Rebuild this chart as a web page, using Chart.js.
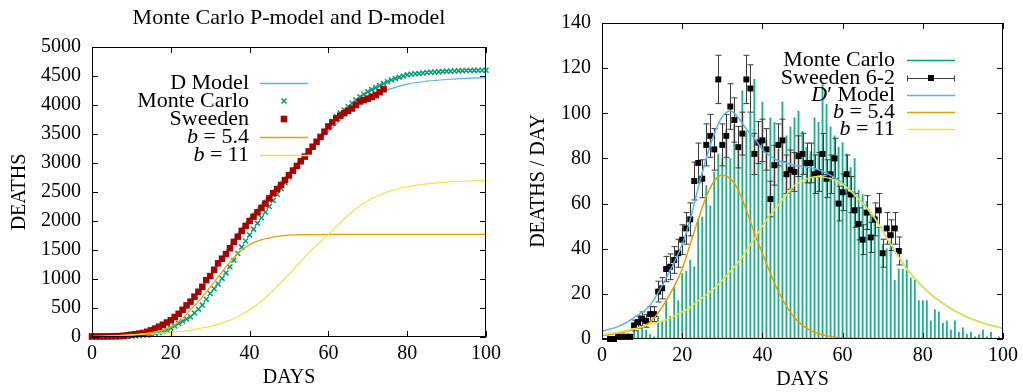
<!DOCTYPE html>
<html>
<head>
<meta charset="utf-8">
<script src="https://cdn.jsdelivr.net/npm/chart.js@4.4.1/dist/chart.umd.min.js"></script>
<style>
  html, body { margin: 0; padding: 0; background: #fff; }
  #wrap { position: relative; width: 1023px; height: 392px; }
  canvas { position: absolute; top: 0; }
  #left { left: 0; }
  #right { left: 512px; }
</style>
</head>
<body>
<div id="wrap">
  <canvas id="left" width="512" height="392"></canvas>
  <canvas id="right" width="511" height="392"></canvas>
</div>
<script>
// days 0..100 (x axis of the Monte Carlo series)
const days = Array.from({ length: 101 }, (_, i) => i);

// Monte Carlo, deaths per day (bars, right panel)
const mcDaily = [0,0,0,0,0,0,1,2,4,4, 5,4,2,1,10,8,17,10,23,17,
  29,30,35,32,53,54,68,59,74,82, 80,93,80,95,86,110,92,100,115,90,
  105,88,98,96,84,105,90,94,98,101, 92,85,83,98,96,113,104,94,90,85,
  87,82,76,80,66,64,61,56,52,49, 42,40,43,26,31,31,35,27,26,17,
  17,17,8,13,12,7,8,4,8,3, 5,2,3,1,2,4,1,3,0.5,1,0.5];

// Monte Carlo, cumulative deaths (crosses, left panel)
const mcCumulative = [0,0,1,1,2,3,4,6,9,12, 16,20,24,29,36,45,60,75,95,120,
  150,190,235,270,310,350,415,480,550,650, 750,830,915,1010,1105,1210,1325,1440,1550,1655,
  1760,1860,1960,2055,2150,2250,2355,2460,2560,2660, 2760,2850,2940,3030,3115,3200,3285,3370,3450,3540,
  3630,3715,3800,3860,3915,3970,4030,4085,4140,4185, 4230,4265,4300,4335,4370,4400,4430,4455,4480,4500,
  4520,4530,4538,4545,4552,4560,4564,4568,4572,4576, 4580,4583,4586,4589,4592,4595,4596,4597,4598,4599,4600];

// Sweden, cumulative deaths, days 0..74 (squares, left panel)
const swedenCumulative = [10,10,10,11,12,13,14,15,21,29, 40,48,59,70,90,115,145,178,212,250,
  290,345,400,470,545,610,695,780,865,980, 1050,1160,1270,1350,1430,1530,1640,1730,1830,1915,
  2000,2075,2150,2225,2300,2390,2480,2550,2620,2705, 2790,2870,2950,3030,3110,3200,3280,3365,3450,3540,
  3630,3700,3770,3815,3860,3900,3940,4000,4060,4085, 4110,4140,4170,4220,4270];

// Sweden 6-2, deaths per day, days 2..74, with error bars
const swedenDays = Array.from({ length: 73 }, (_, i) => i + 2);
const swedenDaily = [0,0,1,1,1,1, 6,7.5,9,8,11,11,21,22.5,31,32,
  35,38,44,49,53,70,78,71,86,90, 84,115,86,90,103,97,85,91,115,111,
  82,87,88,84,62,77,86,88,73,75, 74,81,82,78,78,73,74,82,71,73,
  80,60,65,73,64,57,51,44,56,45, 53,57,38,49,46,49,39];
const swedenErr = [0,0,1,1,1,1, 2.4,2.7,3,2.8,3.3,3.3,4.6,4.7,5.6,5.7,
  5.9,6.2,6.6,7,7.3,8.4,8.8,8.4,9.3,9.5, 9.2,10.7,9.3,9.5,10.1,9.8,9.2,9.5,10.7,10.5,
  9.1,9.3,9.4,9.2,7.9,8.8,9.3,9.4,8.5,8.7, 8.6,9,9.1,8.8,8.8,8.5,8.6,9.1,8.4,8.5,
  8.9,7.7,8.1,8.5,8,7.5,7.1,6.6,7.5,6.7, 7.3,7.5,6.2,7,6.8,7,6.2];

// model curves, left panel (cumulative)
const leftCurveDays = [0,5,10,15,20,22.5,25,27.5,30,32.5,35,37.5,40,42.5,45,47.5,50,55,60,65,70,75,80,85,90,95,100];
const dModelCum = [18,35,70,130,250,385,590,800,1040,1310,1580,1840,2060,2255,2450,2650,2835,3220,3540,3860,4110,4260,4360,4410,4440,4460,4470];
const b54Cum = [8,15,35,75,170,290,470,650,860,1080,1290,1470,1590,1665,1710,1740,1755,1765,1770,1770,1770,1770,1770,1770,1770,1770,1770];
const b11Cum = [10,20,35,55,80,95,120,150,180,230,290,370,470,590,740,910,1080,1450,1770,2100,2350,2500,2590,2640,2670,2690,2700];

// model curves, right panel (per day)
const rightCurveDays = [0,4,8,12,16,20,22,24,26,28,30,32,34,36,38,40,42,44,46,48,50,52,54,56,58,60,64,68,72,76,80,84,88,92,96,100];
const dPrimeDaily = [3.5,5.5,9.5,15,27,42,53,67,80,91,98.5,101,98,93,89,84,81,79,78,77,76.5,76,75,73.5,71.5,69,62.2,53.6,42,31,23,17,12.5,9,6.5,4.7];
const b54Daily = [1.5,2.5,4.3,7.5,17,31,42,53,63,70,72.5,71,66,57,47,38,29,21,14.5,9.5,6,3.8,2.3,1.4,0.8,0.5,0.2,0.1,0,0,0,0,0,0,0,0];
const b11Daily = [2,3,4.5,6.5,8.5,12,14,17,19.5,22.5,26,30,34,39,44.5,50,55,59.5,64,68,70,71.5,72,71.5,70.5,68.5,62,53.5,42,31,23,17,12.5,9,6.5,4.7];

const C = { blue: '#56b4e9', green: '#009e73', red: '#a80000', orange: '#e69f00', yellow: '#f0e442' };
const FONT = '"Liberation Serif", "Times New Roman", serif';

Chart.defaults.font.family = FONT;
Chart.defaults.font.size = 20;
Chart.defaults.color = '#000';

const pts = (xs, ys) => xs.map((x, i) => ({ x: x, y: ys[i] }));

// gnuplot style box with inner ticks on all four sides
const framePlugin = {
  id: 'frame',
  afterDraw(chart) {
    const { ctx, chartArea: a, scales: { x, y } } = chart;
    ctx.save();
    ctx.strokeStyle = '#000';
    ctx.lineWidth = 1;
    ctx.beginPath();
    x.ticks.forEach(t => {
      const px = Math.round(x.getPixelForValue(t.value)) + 0.5;
      ctx.moveTo(px, a.bottom); ctx.lineTo(px, a.bottom - 6);
      ctx.moveTo(px, a.top); ctx.lineTo(px, a.top + 6);
    });
    y.ticks.forEach(t => {
      const py = Math.round(y.getPixelForValue(t.value)) + 0.5;
      ctx.moveTo(a.left, py); ctx.lineTo(a.left + 6, py);
      ctx.moveTo(a.right, py); ctx.lineTo(a.right - 6, py);
    });
    ctx.stroke();
    ctx.strokeRect(a.left + 0.5, a.top + 0.5, a.right - a.left - 1, a.bottom - a.top - 1);
    ctx.restore();
  }
};

// error bars of the Sweden daily series (dataset 1 of the right chart)
const errorBarPlugin = {
  id: 'errbars',
  beforeDatasetDraw(chart, args) {
    if (args.index !== 1) return;
    const { ctx, scales: { y } } = chart;
    ctx.save();
    ctx.strokeStyle = '#3a3a3a';
    ctx.lineWidth = 1;
    ctx.beginPath();
    args.meta.data.forEach((pt, i) => {
      const e = swedenErr[i];
      if (!e) return;
      const top = y.getPixelForValue(swedenDaily[i] + e);
      const bot = y.getPixelForValue(swedenDaily[i] - e);
      const px = Math.round(pt.x) + 0.5;
      ctx.moveTo(px, top); ctx.lineTo(px, bot);
      ctx.moveTo(px - 3, top); ctx.lineTo(px + 3, top);
      ctx.moveTo(px - 3, bot); ctx.lineTo(px + 3, bot);
    });
    ctx.stroke();
    ctx.restore();
  }
};

// key with right aligned text and the sample to its right (plus an optional title)
function makeLegend(items, cfg) {
  return {
    id: 'gnuLegend',
    afterDraw(chart) {
      const ctx = chart.ctx;
      ctx.save();
      ctx.textBaseline = 'middle';
      if (cfg.title) {
        const a = chart.chartArea;
        ctx.font = '22px ' + FONT;
        ctx.fillStyle = '#000';
        ctx.textAlign = 'center';
        ctx.fillText(cfg.title, (a.left + a.right) / 2, cfg.titleY);
      }
      items.forEach((it, k) => {
        const y = cfg.rows[k];
        const fonts = it.parts.map(p => (p[1] ? 'italic ' : '') + '22px ' + FONT);
        let w = 0;
        it.parts.forEach((p, j) => { ctx.font = fonts[j]; w += ctx.measureText(p[0]).width; });
        let x = cfg.textRight - w;
        ctx.fillStyle = '#000';
        ctx.textAlign = 'left';
        it.parts.forEach((p, j) => {
          ctx.font = fonts[j];
          ctx.fillText(p[0], x, y);
          x += ctx.measureText(p[0]).width;
        });
        const x0 = cfg.x0, x1 = cfg.x1, xm = (x0 + x1) / 2, yy = Math.round(y) + 0.5;
        ctx.strokeStyle = it.color;
        ctx.fillStyle = it.color;
        ctx.lineWidth = cfg.lw;
        if (it.kind === 'line') {
          ctx.beginPath(); ctx.moveTo(x0, yy); ctx.lineTo(x1, yy); ctx.stroke();
        } else if (it.kind === 'cross') {
          ctx.lineWidth = 1.5;
          ctx.beginPath();
          ctx.moveTo(xm - 2.5, y - 2.5); ctx.lineTo(xm + 2.5, y + 2.5);
          ctx.moveTo(xm - 2.5, y + 2.5); ctx.lineTo(xm + 2.5, y - 2.5);
          ctx.stroke();
        } else if (it.kind === 'square') {
          ctx.fillRect(xm - 3.3, y - 3.3, 6.6, 6.6);
        } else if (it.kind === 'errbar') {
          ctx.lineWidth = 1;
          ctx.strokeStyle = '#3a3a3a';
          ctx.beginPath();
          ctx.moveTo(x0, yy); ctx.lineTo(x1, yy);
          ctx.moveTo(x0 + 0.5, yy - 3); ctx.lineTo(x0 + 0.5, yy + 3);
          ctx.moveTo(x1 - 0.5, yy - 3); ctx.lineTo(x1 - 0.5, yy + 3);
          ctx.stroke();
          ctx.fillStyle = '#000';
          ctx.fillRect(xm - 3, y - 3, 6, 6);
        }
      });
      ctx.restore();
    }
  };
}

const leftKey = [
  { parts: [['D Model', false]], kind: 'line', color: C.blue },
  { parts: [['Monte Carlo', false]], kind: 'cross', color: C.green },
  { parts: [['Sweeden', false]], kind: 'square', color: C.red },
  { parts: [['b', true], [' = 5.4', false]], kind: 'line', color: C.orange },
  { parts: [['b', true], [' = 11', false]], kind: 'line', color: C.yellow }
];
const rightKey = [
  { parts: [['Monte Carlo', false]], kind: 'line', color: C.green },
  { parts: [['Sweeden 6-2', false]], kind: 'errbar', color: '#000' },
  { parts: [['D', true], ['\u2032 Model', false]], kind: 'line', color: C.blue },
  { parts: [['b', true], [' = 5.4', false]], kind: 'line', color: C.orange },
  { parts: [['b', true], [' = 11', false]], kind: 'line', color: C.yellow }
];

function axes(yMax, yStep, yTitle, yTitlePad, yWidth, xHeight, xTitlePad) {
  const noGrid = { display: false, drawTicks: false };
  return {
    x: {
      type: 'linear', min: 0, max: 100, offset: false,
      ticks: { stepSize: 20, padding: 5, maxRotation: 0, autoSkip: false, callback: v => String(v) },
      grid: noGrid, border: { display: false },
      title: { display: true, text: 'DAYS', padding: { top: 0, bottom: xTitlePad } },
      afterFit: s => { s.height = xHeight; }
    },
    y: {
      min: 0, max: yMax,
      ticks: { stepSize: yStep, padding: 11, autoSkip: false, callback: v => String(v) },
      grid: noGrid, border: { display: false },
      title: { display: true, text: yTitle, padding: { top: yTitlePad, bottom: 0 } },
      afterFit: s => { s.width = yWidth; }
    }
  };
}

new Chart(document.getElementById('left'), {
  type: 'line',
  data: {
    datasets: [
      { label: 'D Model', data: pts(leftCurveDays, dModelCum), borderColor: C.blue, borderWidth: 1.2,
        pointRadius: 0, cubicInterpolationMode: 'monotone', order: 5 },
      { label: 'Monte Carlo', data: pts(days, mcCumulative), showLine: false, pointStyle: 'crossRot',
        pointRadius: 3.5, pointBorderColor: C.green, pointBorderWidth: 1.5, borderColor: C.green, order: 4, clip: false },
      { label: 'Sweeden', data: pts(days.slice(0, swedenCumulative.length), swedenCumulative), showLine: false,
        pointStyle: 'rect', pointRadius: 4.6, pointBackgroundColor: C.red, pointBorderWidth: 0, borderColor: C.red, order: 3, clip: false },
      { label: 'b = 5.4', data: pts(leftCurveDays, b54Cum), borderColor: C.orange, borderWidth: 1.2,
        pointRadius: 0, cubicInterpolationMode: 'monotone', order: 2 },
      { label: 'b = 11', data: pts(leftCurveDays, b11Cum), borderColor: C.yellow, borderWidth: 1.2,
        pointRadius: 0, cubicInterpolationMode: 'monotone', order: 1 }
    ]
  },
  options: {
    responsive: false, animation: false, devicePixelRatio: 1,
    layout: { padding: { left: 0, right: 26, top: 47, bottom: 0 } },
    plugins: { legend: { display: false }, tooltip: { enabled: false } },
    scales: axes(5000, 500, 'DEATHS', 8, 92, 55, 2)
  },
  plugins: [framePlugin, makeLegend(leftKey, { rows: [83, 101, 119, 137, 155], textRight: 249, x0: 260, x1: 308, lw: 1.3,
    title: 'Monte Carlo P-model and D-model', titleY: 18 })]
});

new Chart(document.getElementById('right'), {
  type: 'bar',
  data: {
    datasets: [
      { type: 'bar', label: 'Monte Carlo', data: pts(days, mcDaily), backgroundColor: 'rgba(0,158,115,0.85)',
        barThickness: 1.2, order: 5 },
      { type: 'line', label: 'Sweeden 6-2', data: pts(swedenDays, swedenDaily), showLine: false, pointStyle: 'rect',
        pointRadius: 4.2, pointBackgroundColor: '#000', pointBorderWidth: 0, borderColor: '#000', order: 4, clip: false },
      { type: 'line', label: "D' Model", data: pts(rightCurveDays, dPrimeDaily), borderColor: C.blue, borderWidth: 1.5,
        pointRadius: 0, cubicInterpolationMode: 'monotone', order: 3 },
      { type: 'line', label: 'b = 5.4', data: pts(rightCurveDays, b54Daily), borderColor: C.orange, borderWidth: 1.5,
        pointRadius: 0, cubicInterpolationMode: 'monotone', order: 2 },
      { type: 'line', label: 'b = 11', data: pts(rightCurveDays, b11Daily), borderColor: C.yellow, borderWidth: 1.5,
        pointRadius: 0, cubicInterpolationMode: 'monotone', order: 1 }
    ]
  },
  options: {
    responsive: false, animation: false, devicePixelRatio: 1,
    layout: { padding: { left: 0, right: 17, top: 19, bottom: 0 } },
    plugins: { legend: { display: false }, tooltip: { enabled: false } },
    scales: axes(140, 20, 'DEATHS / DAY', 15, 90, 53, 0)
  },
  plugins: [errorBarPlugin, framePlugin, makeLegend(rightKey, { rows: [60, 78, 95, 112, 129], textRight: 383, x0: 395, x1: 443, lw: 1.5 })]
});
</script>
</body>
</html>
